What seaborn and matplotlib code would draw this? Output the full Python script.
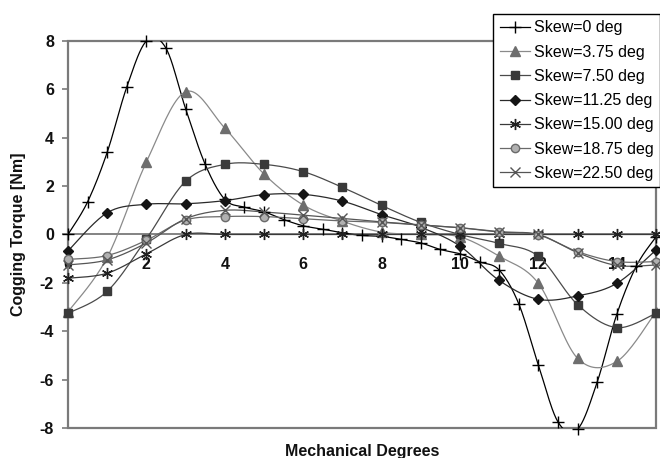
"""
Cogging torque vs mechanical degrees for different skew angles.
"""

import matplotlib
matplotlib.use("Agg")
import matplotlib.pyplot as plt
from matplotlib.lines import Line2D
from matplotlib.patches import Rectangle
import numpy as np
import pandas as pd
import seaborn as sns

# ---- data ----
deg_half = [0, 0.5, 1, 1.5, 2, 2.5, 3, 3.5, 4, 4.5, 5, 5.5, 6, 6.5, 7, 7.5,
            8, 8.5, 9, 9.5, 10, 10.5, 11, 11.5, 12, 12.5, 13, 13.5, 14, 14.5, 15]
deg = [0, 1, 2, 3, 4, 5, 6, 7, 8, 9, 10, 11, 12, 13, 14, 15]

skew_0 = [0, 1.35, 3.4, 6.1, 8.0, 7.7, 5.2, 2.9, 1.45, 1.13, 0.94, 0.62, 0.36,
          0.22, 0.07, -0.04, -0.08, -0.2, -0.35, -0.62, -0.8, -1.13, -1.47,
          -2.87, -5.4, -7.75, -8.05, -6.1, -3.3, -1.3, -0.1]
skew_375 = [-3.2, -0.95, 3.0, 5.9, 4.4, 2.5, 1.22, 0.55, 0.1, 0.0, -0.1,
            -0.9, -2.02, -5.12, -5.25, -3.2]
skew_750 = [-3.26, -2.35, -0.18, 2.2, 2.9, 2.9, 2.6, 1.95, 1.2, 0.5, 0.0,
            -0.37, -0.9, -2.9, -3.85, -3.26]
skew_1125 = [-0.68, 0.9, 1.25, 1.27, 1.4, 1.65, 1.66, 1.38, 0.82, 0.3, -0.48,
             -1.9, -2.68, -2.54, -2.02, -0.64]
skew_1500 = [-1.81, -1.6, -0.8, 0, 0, 0, 0, 0, 0, 0, 0, 0, 0, 0, 0, 0]
skew_1875 = [-1.03, -0.87, -0.24, 0.6, 0.74, 0.74, 0.65, 0.56, 0.5, 0.39,
             0.28, 0.12, -0.02, -0.71, -1.12, -1.12]
skew_2250 = [-1.26, -1.05, -0.35, 0.65, 1.0, 0.93, 0.8, 0.67, 0.52, 0.4, 0.28,
             0.1, 0.0, -0.75, -1.28, -1.26]

labels = ["Skew=0 deg", "Skew=3.75 deg", "Skew=7.50 deg", "Skew=11.25 deg",
          "Skew=15.00 deg", "Skew=18.75 deg", "Skew=22.50 deg"]

# style per series: line colour, marker, marker face, marker edge, size
styles = [
    ("#000000", "+", "#000000", "#000000", 8),
    ("#8a8a8a", "^", "#6e6e6e", "#6e6e6e", 6.5),
    ("#4a4a4a", "s", "#3a3a3a", "#3a3a3a", 6),
    ("#2a2a2a", "D", "#151515", "#151515", 5),
    ("#3a3a3a", (6, 2, 0), "#202020", "#202020", 8),
    ("#6a6a6a", "o", "#b0b0b0", "#6a6a6a", 6),
    ("#555555", "x", "#555555", "#555555", 6.5),
]

plt.rcParams['font.family'] = ['Liberation Sans', 'DejaVu Sans']
plt.rcParams['axes.unicode_minus'] = False


def smooth(x, y, n=20):
    """Excel-like smoothed line (Catmull-Rom through the points)."""
    x = np.asarray(x, float)
    y = np.asarray(y, float)
    px = np.concatenate([[x[0]], x, [x[-1]]])
    py = np.concatenate([[y[0]], y, [y[-1]]])
    t = np.linspace(0, 1, n, endpoint=False)
    xs, ys = [], []
    for i in range(1, len(px) - 2):
        p0, p1, p2, p3 = px[i - 1], px[i], px[i + 1], px[i + 2]
        q0, q1, q2, q3 = py[i - 1], py[i], py[i + 1], py[i + 2]
        c1x, c1y = p1 + (p2 - p0) / 6, q1 + (q2 - q0) / 6
        c2x, c2y = p2 - (p3 - p1) / 6, q2 - (q3 - q1) / 6
        b0 = (1 - t) ** 3
        b1 = 3 * (1 - t) ** 2 * t
        b2 = 3 * (1 - t) * t ** 2
        b3 = t ** 3
        xs.append(b0 * p1 + b1 * c1x + b2 * c2x + b3 * p2)
        ys.append(b0 * q1 + b1 * c1y + b2 * c2y + b3 * q2)
    xs.append([x[-1]])
    ys.append([y[-1]])
    return np.concatenate(xs), np.concatenate(ys)


series = [(deg_half, skew_0), (deg, skew_375), (deg, skew_750), (deg, skew_1125),
          (deg, skew_1500), (deg, skew_1875), (deg, skew_2250)]

fig = plt.figure(figsize=(6.6, 4.58), dpi=100)
ax = fig.add_axes([68 / 660, 1 - 428 / 458, 588 / 660, 387 / 458])

frame_col = "#7a7a7a"

# draw from last to first so the skew=0 curve ends up on top
for i in reversed(range(len(series))):
    xv, yv = series[i]
    col, mk, mfc, mec, ms = styles[i]
    sx, sy = smooth(xv, yv)
    curve = pd.DataFrame({'deg': sx, 'torque': sy})
    sns.lineplot(data=curve, x='deg', y='torque', ax=ax, color=col, lw=0.9,
                 sort=False, estimator=None, legend=False, zorder=3 + i * 0.01)
    ax.plot(xv, yv, ls='none', marker=mk, ms=ms, mfc=mfc, mec=mec, mew=1.0,
            zorder=4 + i * 0.01, clip_on=False)

ax.set_xlim(0, 15)
ax.set_ylim(-8, 8)
ax.set_xticks([0, 2, 4, 6, 8, 10, 12, 14])
ax.set_yticks([-8, -6, -4, -2, 0, 2, 4, 6, 8])

ax.set_facecolor('white')
for s in ['top', 'right', 'left']:
    ax.spines[s].set_visible(False)
ax.spines['bottom'].set_position(('data', 0))
ax.spines['bottom'].set_color(frame_col)
ax.spines['bottom'].set_linewidth(1.3)
ax.add_patch(Rectangle((0, 0), 1, 1, transform=ax.transAxes, fill=False,
                       edgecolor=frame_col, lw=1.6, clip_on=False, zorder=2))

ax.tick_params(axis='x', length=0, pad=16, labelsize=11.5, labelcolor='#111111')
ax.tick_params(axis='y', length=4, width=1.2, color=frame_col, pad=6,
               labelsize=11.5, labelcolor='#111111')
for lab in ax.get_xticklabels() + ax.get_yticklabels():
    lab.set_fontweight('bold')

ax.set_xlabel('Mechanical Degrees', fontsize=11.5, fontweight='bold', color='#111111')
ax.xaxis.set_label_coords(0.5, -0.042)
ax.set_ylabel('Cogging Torque [Nm]', fontsize=11.5, fontweight='bold', color='#111111')
ax.yaxis.set_label_coords(-0.072, 0.5)

handles = []
for (col, mk, mfc, mec, ms), lab in zip(styles, labels):
    handles.append(Line2D([], [], color=col, lw=0.9, marker=mk, ms=ms, mfc=mfc,
                          mec=mec, mew=1.0, label=lab))
leg = fig.legend(handles=handles, loc='upper right',
                 bbox_to_anchor=(1.0, 1 - 14 / 458), fontsize=11.5,
                 frameon=True, fancybox=False, framealpha=1, edgecolor='black',
                 handlelength=1.9, handletextpad=0.25, labelspacing=0.58,
                 borderpad=0.4, borderaxespad=0.0)
leg.get_frame().set_linewidth(1.0)

fig.savefig('out.png', dpi=100)
